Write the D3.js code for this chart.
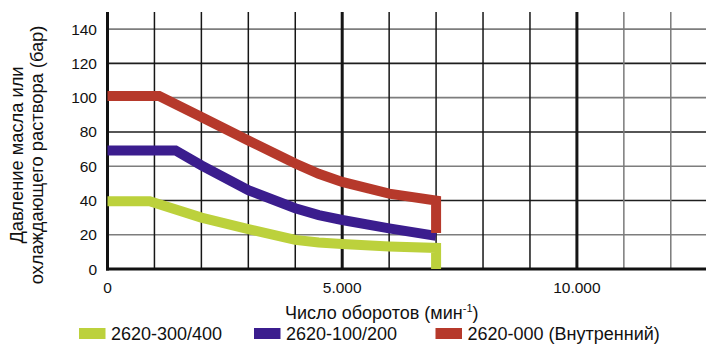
<!DOCTYPE html>
<html>
<head>
<meta charset="utf-8">
<script src="https://cdn.jsdelivr.net/npm/d3@7"></script>
<style>
  html, body { margin: 0; padding: 0; background: #fff; }
  svg { display: block; font-family: "Liberation Sans", Arial, Helvetica, sans-serif; }
</style>
</head>
<body>
<svg id="chart" width="706" height="344"></svg>
<script>
// Speed (rpm) vs. max coolant / oil pressure (bar)
const rpm300 = [0, 900, 2000, 3000, 4000, 4500, 5000, 6000, 7000, 7000];
const bar300 = [39.5, 39.5, 30, 23.3, 17, 15.5, 14.6, 13.2, 12.3, 0];

const rpm100 = [0, 1450, 2000, 3000, 4000, 4500, 5000, 6000, 7000];
const bar100 = [69.2, 69.2, 60.5, 46, 35.5, 31.5, 28.6, 23.7, 19.3];

const rpm000 = [0, 1100, 2000, 3000, 4000, 4500, 5000, 6000, 7000, 7000];
const bar000 = [101, 101, 88.7, 75, 61.6, 55.6, 50.8, 44, 40, 21];

const seriesNames = ["2620-300/400", "2620-100/200", "2620-000 (Внутренний)"];
const seriesColors = ["#bcd13c", "#3b1d8e", "#b6392b"];

const xTickValues = [0, 5000, 10000];
const xTickLabels = ["0", "5.000", "10.000"];
const yTickValues = [0, 20, 40, 60, 80, 100, 120, 140];

const svg = d3.select("#chart");
const x = d3.scaleLinear().domain([0, 12750]).range([107.5, 706]);
const y = d3.scaleLinear().domain([0, 150]).range([269, 12]);

const plotTop = y(150), plotBottom = y(0), plotLeft = x(0), plotRight = x(12750);

// horizontal grid
const grid = svg.append("g");
grid.selectAll("line.h")
  .data(yTickValues.filter(v => v > 0))
  .join("line")
  .attr("class", "h")
  .attr("x1", plotLeft).attr("x2", plotRight)
  .attr("y1", d => y(d)).attr("y2", d => y(d))
  .attr("stroke", d => (d / 20) % 2 === 0 ? "#1e1e1e" : "#7d7d7d")
  .attr("stroke-width", 1.6);

// vertical grid every 1000 rpm
grid.selectAll("line.v")
  .data(d3.range(1000, 12001, 1000))
  .join("line")
  .attr("class", "v")
  .attr("x1", d => x(d)).attr("x2", d => x(d))
  .attr("y1", plotTop).attr("y2", plotBottom)
  .attr("stroke", d => d > 10000 ? "#7a7a7a" : "#161616")
  .attr("stroke-width", d => d % 5000 === 0 ? 3 : 1.5);

// axes frame
svg.append("line")
  .attr("x1", plotLeft).attr("x2", plotLeft).attr("y1", plotTop).attr("y2", plotBottom + 1.5)
  .attr("stroke", "#111").attr("stroke-width", 3);
svg.append("line")
  .attr("x1", plotLeft - 1.5).attr("x2", plotRight).attr("y1", plotBottom).attr("y2", plotBottom)
  .attr("stroke", "#111").attr("stroke-width", 3);

// series
const line = d3.line().x(d => x(d[0])).y(d => y(d[1]));
const series = [
  d3.zip(rpm300, bar300),
  d3.zip(rpm100, bar100),
  d3.zip(rpm000, bar000)
];
svg.append("g").selectAll("path")
  .data(series)
  .join("path")
  .attr("d", line)
  .attr("fill", "none")
  .attr("stroke", (d, i) => seriesColors[i])
  .attr("stroke-width", 10)
  .attr("stroke-linejoin", "miter")
  .attr("stroke-linecap", "butt");

// y tick labels
svg.append("g").selectAll("text")
  .data(yTickValues)
  .join("text")
  .attr("x", 97).attr("y", d => y(d) + 5.5)
  .attr("text-anchor", "end")
  .attr("font-size", 15.5)
  .attr("fill", "#111")
  .text(d => d);

// x tick labels
svg.append("g").selectAll("text")
  .data(xTickValues)
  .join("text")
  .attr("x", d => x(d)).attr("y", 293)
  .attr("text-anchor", "middle")
  .attr("font-size", 15.5)
  .attr("fill", "#111")
  .text((d, i) => xTickLabels[i]);

// x axis title with superscript
const xt = svg.append("text")
  .attr("x", 285).attr("y", 319)
  .attr("font-size", 18)
  .attr("fill", "#111");
xt.append("tspan").text("Число оборотов (мин");
xt.append("tspan").attr("dy", -7).attr("font-size", 11).text("-1");
xt.append("tspan").attr("dy", 7).text(")");

// y axis title, two lines
const yt = svg.append("text")
  .attr("transform", "translate(0,155) rotate(-90)")
  .attr("text-anchor", "middle")
  .attr("font-size", 18.3)
  .attr("fill", "#111");
yt.append("tspan").attr("x", 0).attr("y", 23).text("Давление масла или");
yt.append("tspan").attr("x", 0).attr("y", 43).text("охлаждающего раствора (бар)");

// legend
const legendX = [79, 254, 435.5];
const lg = svg.append("g").selectAll("g")
  .data(seriesNames)
  .join("g")
  .attr("transform", (d, i) => `translate(${legendX[i]},0)`);
lg.append("rect")
  .attr("x", 0).attr("y", 328).attr("width", 26.5).attr("height", 11)
  .attr("fill", (d, i) => seriesColors[i]);
lg.append("text")
  .attr("x", 32).attr("y", 340)
  .attr("font-size", 18)
  .attr("fill", "#111")
  .text(d => d);
</script>
</body>
</html>
